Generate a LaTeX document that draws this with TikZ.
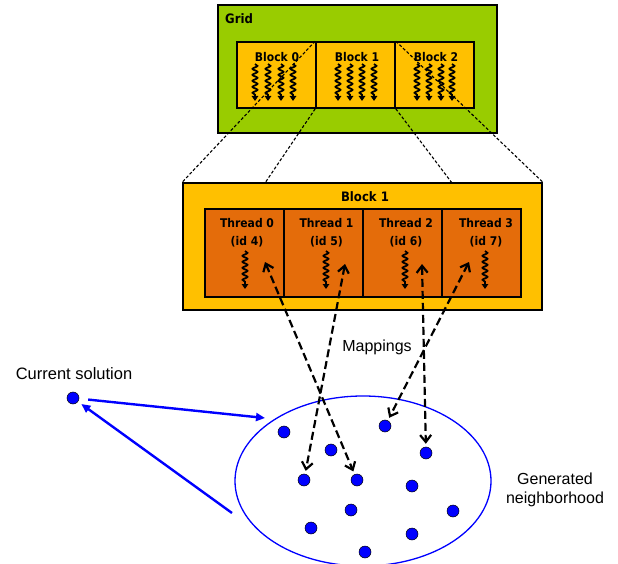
\documentclass[tikz,border=0pt]{standalone}
\usepackage{fontspec}
\setmainfont{Liberation Sans}
\newfontfamily\tah{DejaVu Sans Condensed}
\usetikzlibrary{arrows.meta,decorations.pathmorphing,shapes.geometric,calc}
\definecolor{gridgreen}{HTML}{99CC00}
\definecolor{blockyel}{HTML}{FFC000}
\definecolor{throrange}{HTML}{E46C0A}
\definecolor{dotblue}{HTML}{0000FF}
\begin{document}
\begin{tikzpicture}[x=1pt,y=-1pt,
  box/.style={draw=black, line width=1.6pt, rectangle, inner sep=0pt},
  smalllbl/.style={font=\tah\bfseries\fontsize{12}{17.5}\selectfont, inner sep=0pt},
  biglbl/.style={font=\tah\bfseries\fontsize{13}{15}\selectfont, inner sep=0pt},
  plainlbl/.style={font=\fontsize{16}{19.5}\selectfont, inner sep=0pt, align=center},
  squig/.style={line width=1.8pt, decorate,
    decoration={snake, amplitude=2.4pt, segment length=6pt, post length=5pt},
    -{Triangle[length=5pt,width=6.5pt]}},
  proj/.style={line width=1.1pt, dash pattern=on 3pt off 2pt},
  mapline/.style={line width=2.2pt, dash pattern=on 8pt off 4pt,
    {Straight Barb[length=7pt,width=11pt,line width=2.2pt]}-{Straight Barb[length=7pt,width=11pt,line width=2.2pt]},
    shorten >=3pt},
  bluearrow/.style={draw=dotblue, line width=2.4pt, -{Triangle[length=9pt,width=8pt]}},
  sol/.style={circle, draw=black, line width=0.5pt, fill=dotblue, minimum size=12pt, inner sep=0pt}
]
\useasboundingbox (0,0) rectangle (618,564);

% Grid
\node[box, fill=gridgreen, minimum width=279pt, minimum height=128pt] (grid) at (357.5,69) {};
\node[biglbl, anchor=west] (gridlbl) at (225,19) {Grid};
\node[box, fill=blockyel, minimum width=79pt, minimum height=66pt] (gb0) at (276.5,75) {};
\node[box, fill=blockyel, minimum width=79pt, minimum height=66pt] (gb1) at (355.5,75) {};
\node[box, fill=blockyel, minimum width=79pt, minimum height=66pt] (gb2) at (434.5,75) {};
\node[smalllbl] (gl0) at (277,57) {Block 0};
\node[smalllbl] (gl1) at (357,57) {Block 1};
\node[smalllbl] (gl2) at (436,57) {Block 2};
\foreach \x in {255,268,281,293,338,350,362,374,417,429,441,452}
  \draw[squig] (\x,64) -- (\x,101);

% Block 1 detail
\node[box, fill=blockyel, minimum width=359pt, minimum height=127pt] (big) at (362.5,246.5) {};
\node[biglbl] (biglbl) at (365,197) {Block 1};
\node[box, fill=throrange, minimum width=79pt, minimum height=88pt] (t0) at (244.5,253) {};
\node[box, fill=throrange, minimum width=79pt, minimum height=88pt] (t1) at (323.5,253) {};
\node[box, fill=throrange, minimum width=79pt, minimum height=88pt] (t2) at (402.5,253) {};
\node[box, fill=throrange, minimum width=79pt, minimum height=88pt] (t3) at (481.5,253) {};
\node[smalllbl, align=center] (tl0) at (247,232.5) {Thread 0\\(id 4)};
\node[smalllbl, align=center] (tl1) at (326.5,232.5) {Thread 1\\(id 5)};
\node[smalllbl, align=center] (tl2) at (406,232.5) {Thread 2\\(id 6)};
\node[smalllbl, align=center] (tl3) at (486,232.5) {Thread 3\\(id 7)};
\foreach \x in {245,326,405,485}
  \draw[squig] (\x,251) -- (\x,289);

% projection lines
\coordinate (pl) at (265,183);
\coordinate (pr) at (452,183);
\draw[proj] (gb1.north west) -- (big.north west);
\draw[proj] (gb1.south west) -- (pl);
\draw[proj] (gb1.south east) -- (pr);
\draw[proj] (gb1.north east) -- (big.north east);

% neighborhood
\node[draw=dotblue, line width=1.3pt, ellipse, minimum width=256pt, minimum height=170pt, inner sep=0pt] (hood) at (363,481) {};
\node[sol] (d1) at (284,432) {};
\node[sol] (d2) at (331,450) {};
\node[sol] (d3) at (385,426) {};
\node[sol] (d4) at (426,453) {};
\node[sol] (d5) at (304,480) {};
\node[sol] (d6) at (357,480) {};
\node[sol] (d7) at (412,486) {};
\node[sol] (d8) at (351,510) {};
\node[sol] (d9) at (453,511) {};
\node[sol] (d10) at (311,528) {};
\node[sol] (d11) at (412,534) {};
\node[sol] (d12) at (365,552) {};

% current solution
\node[plainlbl, font=\fontsize{16.5}{19.5}\selectfont] (cslbl) at (74,374) {Current solution};
\node[sol] (cs) at (73,398) {};
\coordinate (ein) at (265,418);
\coordinate (eout) at (232,513);
\draw[bluearrow, shorten <=9pt] (cs) -- (ein);
\draw[bluearrow, shorten >=4pt] (eout) -- (cs);

% mappings
\coordinate (m0) at (265,262);
\coordinate (m1) at (345,264);
\coordinate (m2) at (422,264);
\coordinate (m3) at (469,262);
\draw[mapline] (m0) -- (d6);
\draw[mapline] (m1) -- (d5);
\draw[mapline] (m2) -- (d4);
\draw[mapline] (m3) -- (d3);
\node[plainlbl] (maplbl) at (377,347) {Mappings};
\node[plainlbl] (genlbl) at (555,490) {Generated\\neighborhood};
\end{tikzpicture}
\end{document}
